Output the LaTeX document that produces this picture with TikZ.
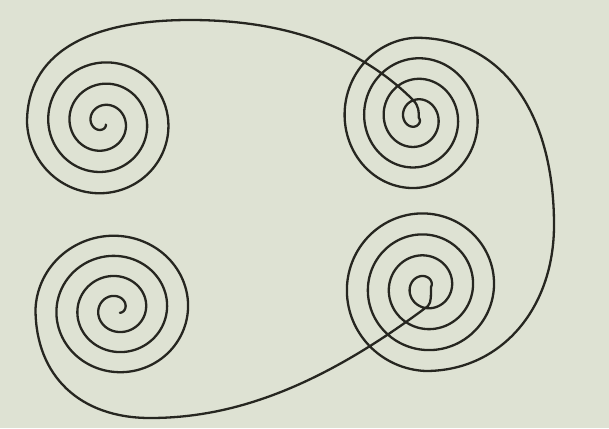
\documentclass[tikz,border=0pt]{standalone}
\begin{document}
\definecolor{paper}{RGB}{222,226,211}
\definecolor{ink}{RGB}{38,38,32}
\begin{tikzpicture}[x=1pt,y=-1pt,
  curve/.style={draw=ink,line width=2.3pt,line cap=round,line join=round},
  sp/.style={samples=500,variable=\s}]
\fill[paper] (0,0) rectangle (609,428);
\useasboundingbox (0,0) rectangle (609,428);
\draw[curve]
  plot[sp,domain=13.6:0] ({103+(76-5.33*\s)*cos(180-90*\s)},{122.5+(76-5.33*\s)*sin(180-90*\s)})
  .. controls (27,55) and (85,20) .. (190,20)
  .. controls (285.3,20) and (359.7,46.7) .. (413,100)
  .. controls (419,106) and (418.85,112) .. (418.85,118)
  -- plot[sp,domain=0:15] ({416+0.95*(3+5.15*\s)*cos(90*\s)},{118+(3+5.15*\s)*sin(90*\s)})
  .. controls (500,37.75) and (554,110) .. (554,225)
  .. controls (554,309.7) and (500.1,371) .. (425.7,371)
  -- plot[sp,domain=0:15] ({425.7+(84-5.25*\s)*cos(90+90*\s)},{287+(84-5.25*\s)*sin(90+90*\s)})
  .. controls (430.95,295) and (431.5,302) .. (428,306)
  .. controls (316,390) and (230,418) .. (150,418)
  .. controls (80,418) and (35.5,376) .. (35.5,309)
  -- plot[sp,domain=0:14.6] ({117+(81.5-5.25*\s)*cos(180+90*\s)},{309+0.96*(81.5-5.25*\s)*sin(180+90*\s)});
\end{tikzpicture}
\end{document}
